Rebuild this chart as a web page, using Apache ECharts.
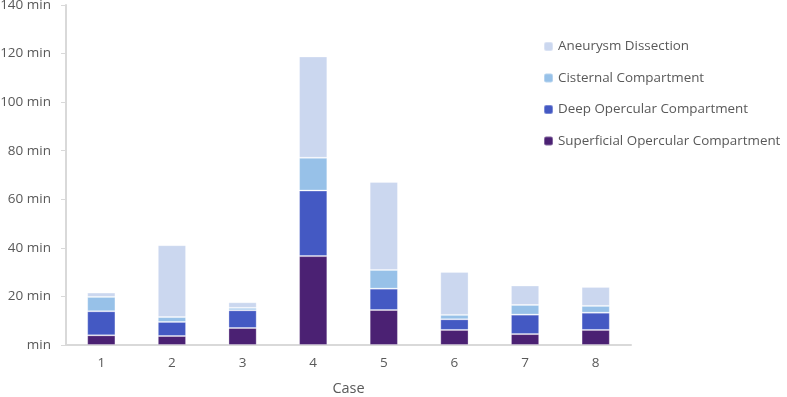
<!DOCTYPE html>
<html>
<head>
<meta charset="utf-8">
<script src="https://cdn.jsdelivr.net/npm/echarts@6/dist/echarts.min.js"></script>
<style>
  html, body { margin: 0; padding: 0; background: #fff; }
  #chart { width: 787px; height: 397px; }
</style>
</head>
<body>
<div id="chart"></div>
<script>
// minutes per case
const cases = ["1", "2", "3", "4", "5", "6", "7", "8"];
const superficial = [4.0, 3.7, 7.0, 36.6, 14.4, 6.2, 4.5, 6.2];
const deep = [9.9, 5.8, 7.3, 27.0, 8.8, 4.4, 8.0, 7.1];
const cisternal = [5.9, 2.0, 1.0, 13.5, 7.7, 1.8, 4.0, 2.8];
const aneurysm = [1.8, 29.6, 2.3, 41.7, 36.2, 17.7, 8.0, 7.8];
const yTicks = [0, 20, 40, 60, 80, 100, 120, 140];

const textColor = "#595959";
const fontFamily = "'Open Sans', 'Liberation Sans', sans-serif";

const chart = echarts.init(document.getElementById("chart"));

const buildBar = (name, data, color) => ({
  name,
  type: "bar",
  stack: "total",
  barWidth: "40%",
  data,
  itemStyle: {
    color,
    borderColor: "rgba(255, 255, 255, 0.3)",
    borderWidth: 1
  },
  emphasis: { disabled: true }
});

chart.setOption({
  animation: false,
  textStyle: { fontFamily },
  grid: {
    left: 66,
    right: 156,
    top: 5,
    bottom: 52,
    containLabel: false,
    outerBoundsMode: "none"
  },
  legend: {
    orient: "vertical",
    left: 543,
    top: 40,
    padding: 0,
    itemWidth: 9,
    itemHeight: 9,
    itemGap: 18.5,
    data: [
      "Aneurysm Dissection",
      "Cisternal Compartment",
      "Deep Opercular Compartment",
      "Superficial Opercular Compartment"
    ],
    textStyle: { color: textColor, fontSize: 13.4, fontFamily }
  },
  xAxis: {
    type: "category",
    data: cases,
    name: "Case",
    nameLocation: "middle",
    nameGap: 36,
    nameTextStyle: { color: textColor, fontSize: 14.5, fontFamily },
    axisLine: { lineStyle: { color: "#d9d9d9", width: 2 } },
    axisTick: { show: false },
    axisLabel: { color: textColor, fontSize: 13.5, margin: 11 }
  },
  yAxis: {
    type: "value",
    min: yTicks[0],
    max: yTicks[yTicks.length - 1],
    interval: 20,
    axisLine: { show: true, lineStyle: { color: "#d9d9d9", width: 2 } },
    axisTick: { show: true, inside: false, length: 5, lineStyle: { color: "#d9d9d9", width: 1 } },
    splitLine: { show: false },
    axisLabel: {
      color: textColor,
      fontSize: 13.5,
      margin: 15,
      formatter: (v) => (v === 0 ? "min" : v + " min")
    }
  },
  series: [
    buildBar("Superficial Opercular Compartment", superficial, "#4b2173"),
    buildBar("Deep Opercular Compartment", deep, "#4459c3"),
    buildBar("Cisternal Compartment", cisternal, "#97c1e8"),
    buildBar("Aneurysm Dissection", aneurysm, "#cbd7ef")
  ]
});
</script>
</body>
</html>
